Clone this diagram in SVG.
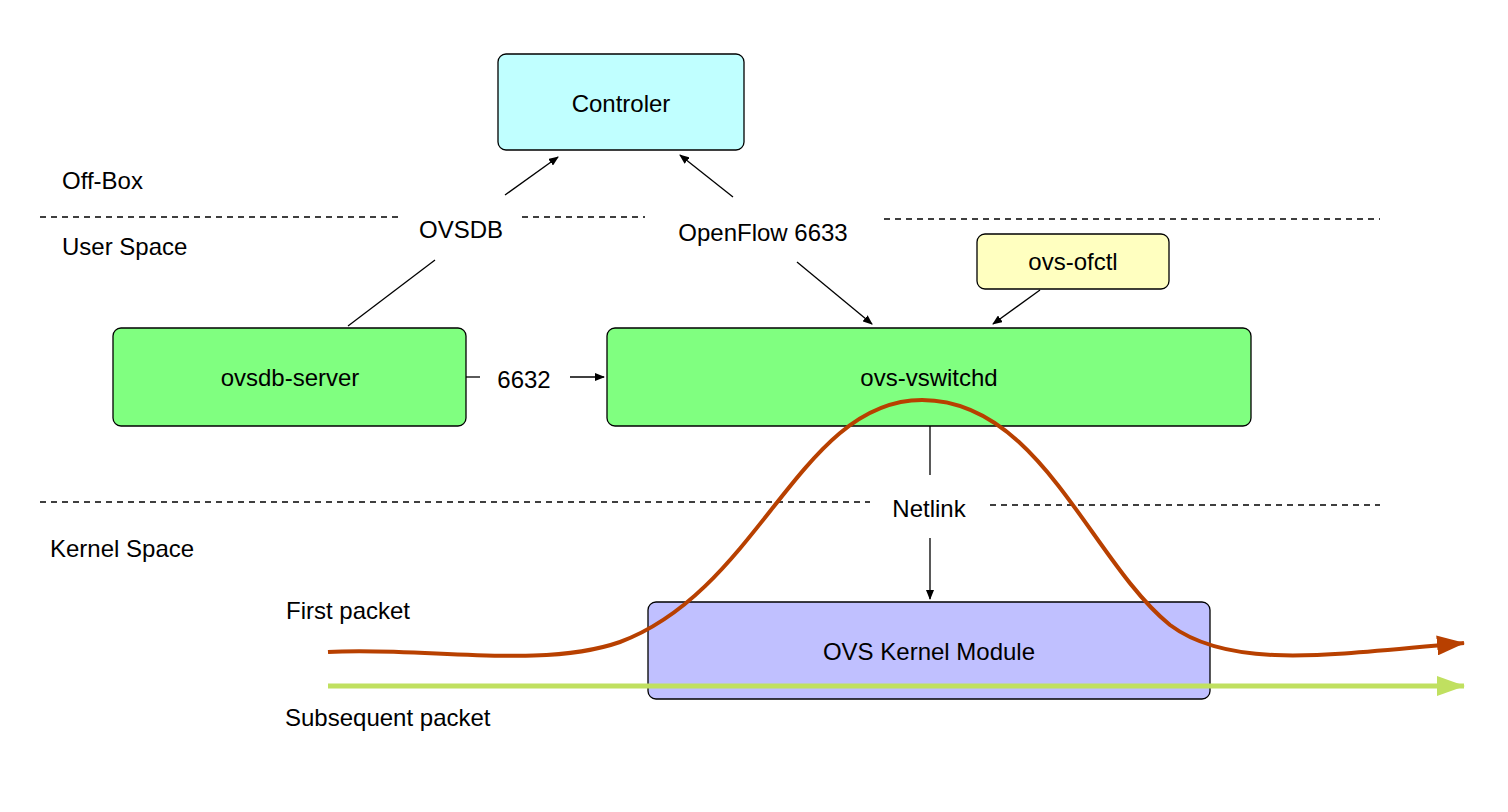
<svg xmlns="http://www.w3.org/2000/svg" width="1508" height="812" viewBox="0 0 1508 812">
<style>
text{font-family:"Liberation Sans",Arial,sans-serif;font-size:24px;fill:#000}
.c{text-anchor:middle}
.box{stroke:#000;stroke-width:1.3}
.dash{stroke:#000;stroke-width:1.3;stroke-dasharray:6 5;fill:none}
.ln{stroke:#000;stroke-width:1.3;fill:none}
</style>
<defs>
<marker id="a" markerWidth="10" markerHeight="8" refX="9" refY="4" orient="auto" markerUnits="userSpaceOnUse"><path d="M0,0L10,4L0,8z" fill="#000"/></marker>
<marker id="r" markerWidth="28" markerHeight="20" refX="27" refY="10" orient="auto" markerUnits="userSpaceOnUse"><path d="M0,0L28,10L0,20z" fill="#b84000"/></marker>
<marker id="g" markerWidth="28" markerHeight="20" refX="27" refY="10" orient="auto" markerUnits="userSpaceOnUse"><path d="M0,0L28,10L0,20z" fill="#c0e060"/></marker>
</defs>
<rect width="1508" height="812" fill="#fff"/>
<g id="labels">
<text x="62" y="189">Off-Box</text>
<text x="62" y="255">User Space</text>
<text x="50" y="557">Kernel Space</text>
<text x="286" y="619">First packet</text>
<text x="285" y="726">Subsequent packet</text>
</g>
<g id="connectors">
<path class="dash" d="M40,217H400M522,217H645M884,219H1380"/>
<path class="dash" d="M40,502H870M990,505H1380"/>
<path class="ln" d="M505,195L558,157" marker-end="url(#a)"/>
<path class="ln" d="M733,197L680,155" marker-end="url(#a)"/>
<path class="ln" d="M348,326L435,260"/>
<path class="ln" d="M797,262L872,324" marker-end="url(#a)"/>
<path class="ln" d="M1040,290L993,324" marker-end="url(#a)"/>
<path class="ln" d="M466,377H480"/>
<path class="ln" d="M570,377H604" marker-end="url(#a)"/>
<path class="ln" d="M930,426V475"/>
<path class="ln" d="M930,538V599" marker-end="url(#a)"/>
<text class="c" x="461" y="238">OVSDB</text>
<text class="c" x="763" y="241">OpenFlow 6633</text>
<text class="c" x="524" y="388">6632</text>
<text class="c" x="929" y="517">Netlink</text>
</g>
<g id="controler"><rect class="box" x="498" y="54" width="246" height="96" rx="8" fill="#c0ffff"/><text class="c" x="621" y="112">Controler</text></g>
<g id="ovs-ofctl"><rect class="box" x="977" y="234" width="192" height="55" rx="8" fill="#ffffc0"/><text class="c" x="1073" y="270">ovs-ofctl</text></g>
<g id="ovsdb-server"><rect class="box" x="113" y="328" width="353" height="98" rx="8" fill="#80ff80"/><text class="c" x="290" y="386">ovsdb-server</text></g>
<g id="ovs-vswitchd"><rect class="box" x="607" y="328" width="644" height="98" rx="8" fill="#80ff80"/><text class="c" x="929" y="386">ovs-vswitchd</text></g>
<g id="kernel"><rect class="box" x="648" y="602" width="562" height="97" rx="8" fill="#c0c0ff"/><text class="c" x="929" y="660">OVS Kernel Module</text></g>
<g id="packets">
<path d="M328,686H1464" stroke="#c0e060" stroke-width="5" fill="none" marker-end="url(#g)"/>
<path d="M328,652C420,646 540,670 620,642C760,590 800,400 922,400C1040,400 1090,560 1170,625C1230,670 1330,655 1464,643" stroke="#b84000" stroke-width="4" fill="none" marker-end="url(#r)"/>
</g>
</svg>
